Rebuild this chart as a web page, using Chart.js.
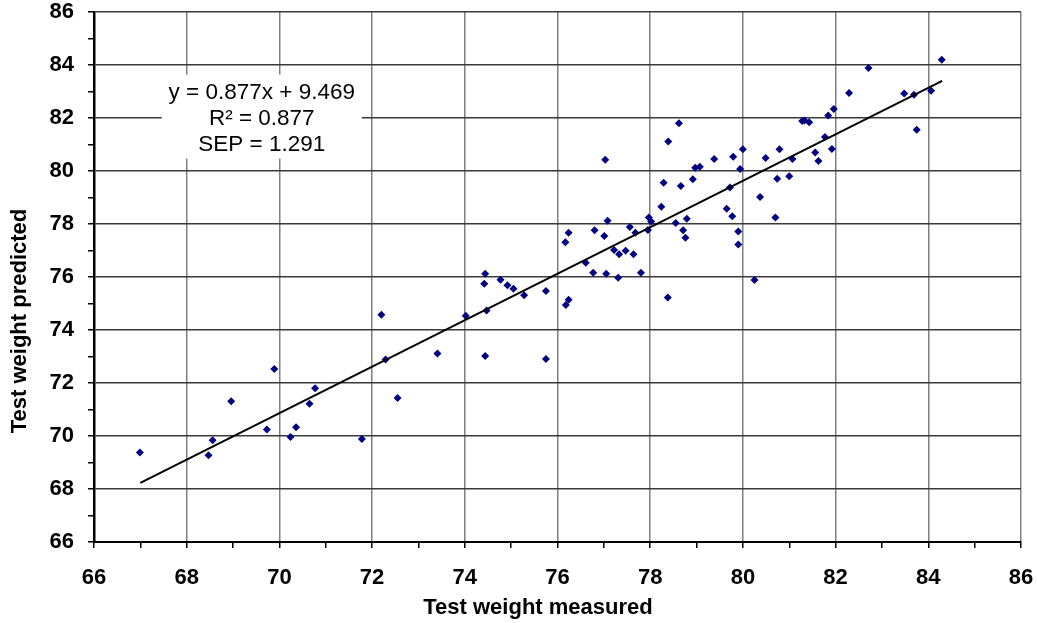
<!DOCTYPE html>
<html>
<head>
<meta charset="utf-8">
<script src="https://cdn.jsdelivr.net/npm/chart.js@4"></script>
<style>
  html, body { margin: 0; padding: 0; background: #fff; }
  #wrap { width: 1037px; height: 623px; }
</style>
</head>
<body>
<div id="wrap"><canvas id="testWeightChart" width="1037" height="623"></canvas></div>
<script>
// measured vs predicted test weight
const measured = [
  66.99, 68.47, 68.56, 68.96, 69.89, 69.73, 70.24, 70.36, 70.65, 70.77,
  71.78, 72.20, 72.29, 72.55, 73.41, 74.02, 74.44, 74.42, 74.44, 74.47,
  74.77, 74.92, 75.05, 75.28, 75.75, 75.75, 76.18, 76.24, 76.17, 76.24,
  76.61, 76.77, 76.80, 77.01, 77.05, 77.08, 77.03, 77.22, 77.33, 77.47,
  77.31, 77.64, 77.56, 77.68, 77.80, 77.95, 77.97, 78.02, 78.24, 78.29,
  78.66, 78.38, 78.55, 78.71, 78.76, 78.79, 78.39, 78.62, 78.92, 78.97,
  79.07, 79.38, 79.65, 79.72, 79.77, 79.79, 79.90, 79.90, 79.94, 80.00,
  80.25, 80.37, 80.49, 80.70, 80.74, 80.79, 81.00, 81.07, 81.28, 81.33,
  81.43, 81.56, 81.63, 81.77, 81.84, 81.92, 81.96, 82.29, 82.71, 83.48,
  83.69, 83.75, 84.06, 84.29
];
const predicted = [
  69.38, 69.27, 69.84, 71.31, 72.53, 70.25, 69.96, 70.33, 71.22, 71.80,
  69.89, 74.58, 72.89, 71.43, 73.11, 74.54, 76.12, 75.75, 73.02, 74.74,
  75.90, 75.69, 75.56, 75.31, 75.47, 72.91, 74.94, 75.14, 77.31, 77.67,
  76.54, 76.16, 77.76, 77.55, 76.12, 78.12, 80.42, 77.02, 76.86, 76.99,
  75.97, 76.86, 77.89, 77.67, 76.16, 77.77, 78.25, 78.09, 78.65, 79.56,
  79.43, 75.23, 78.04, 77.76, 77.48, 78.20, 81.11, 81.80, 79.69, 80.12,
  80.16, 80.45, 78.58, 79.38, 78.29, 80.54, 77.72, 77.23, 80.08, 80.82,
  75.89, 79.02, 80.49, 78.25, 79.71, 80.82, 79.80, 80.45, 81.89, 81.91,
  81.84, 80.70, 80.38, 81.28, 82.09, 80.83, 82.34, 82.94, 83.89, 82.92,
  82.88, 81.56, 83.03, 84.20
];
// regression line end points
const trendX = [67.0, 84.3];
const trendY = [68.23, 83.40];
const statLines = ['y = 0.877x + 9.469', 'R\u00B2 = 0.877', 'SEP = 1.291'];
const xTitle = 'Test weight measured';
const yTitle = 'Test weight predicted';

const scatterPoints = measured.map((x, i) => ({ x: x, y: predicted[i] }));
const trendPoints = trendX.map((x, i) => ({ x: x, y: trendY[i] }));

const FONT = '"Liberation Sans", Arial, sans-serif';

// white box with the fit statistics + the two axis titles (placed like Excel does)
const extras = {
  id: 'extras',
  afterDatasetsDraw(chart) {
    const ctx = chart.ctx;
    const cx = chart.scales.x.getPixelForValue(69.62);
    const top = chart.scales.y.getPixelForValue(82.96);
    ctx.save();
    ctx.fillStyle = '#fff';
    ctx.fillRect(cx - 100, top - 18, 200, 84);
    ctx.fillStyle = '#000';
    ctx.font = '22.5px ' + FONT;
    ctx.textAlign = 'center';
    ctx.textBaseline = 'middle';
    statLines.forEach((t, i) => ctx.fillText(t, cx, top + i * 26));
    ctx.restore();
  },
  afterDraw(chart) {
    const ctx = chart.ctx;
    ctx.save();
    ctx.fillStyle = '#000';
    ctx.font = 'bold 22px ' + FONT;
    ctx.textAlign = 'center';
    ctx.textBaseline = 'middle';
    ctx.fillText(xTitle, 538, 608);
    ctx.translate(20, 321);
    ctx.rotate(-Math.PI / 2);
    ctx.fillText(yTitle, 0, 0);
    ctx.restore();
  }
};

const tickFont = { family: FONT, size: 22, weight: 'bold' };
const oddHidden = (col) => (c) => (c.tick && c.tick.value % 2 !== 0) ? 'rgba(0,0,0,0)' : col;

new Chart(document.getElementById('testWeightChart'), {
  type: 'scatter',
  data: {
    datasets: [
      {
        label: 'Samples',
        data: scatterPoints,
        pointStyle: 'rectRot',
        pointRadius: 4,
        pointHoverRadius: 4,
        backgroundColor: '#000080',
        borderColor: '#000080',
        borderWidth: 0,
        order: 2
      },
      {
        label: 'Fit',
        type: 'line',
        data: trendPoints,
        borderColor: '#000',
        borderWidth: 2,
        pointRadius: 0,
        fill: false,
        order: 1
      }
    ]
  },
  options: {
    responsive: false,
    animation: false,
    layout: { padding: { top: 12, right: 16, left: 0, bottom: 0 } },
    plugins: {
      legend: { display: false },
      tooltip: { enabled: false }
    },
    scales: {
      x: {
        type: 'linear',
        min: 66, max: 86,
        ticks: {
          stepSize: 1,
          autoSkip: false,
          maxRotation: 0,
          color: '#000',
          font: tickFont,
          padding: 17,
          callback: (v) => v % 2 === 0 ? v : ''
        },
        grid: { color: oddHidden('#7f7f7f'), tickColor: '#000', tickLength: 6, lineWidth: 1.5 },
        border: { color: '#000', width: 2 },
        afterFit: (s) => { s.height = 81; s.paddingLeft = 0; s.paddingRight = 0; }
      },
      y: {
        type: 'linear',
        min: 66, max: 86,
        ticks: {
          stepSize: 1,
          autoSkip: false,
          color: '#000',
          font: tickFont,
          padding: 14,
          callback: (v) => v % 2 === 0 ? v : ''
        },
        grid: { color: oddHidden('#3a3a3a'), tickColor: '#000', tickLength: 6, lineWidth: 1.5 },
        border: { color: '#000', width: 2.5 },
        afterFit: (s) => { s.width = 94; s.paddingTop = 0; s.paddingBottom = 0; }
      }
    }
  },
  plugins: [extras]
});
</script>
</body>
</html>
